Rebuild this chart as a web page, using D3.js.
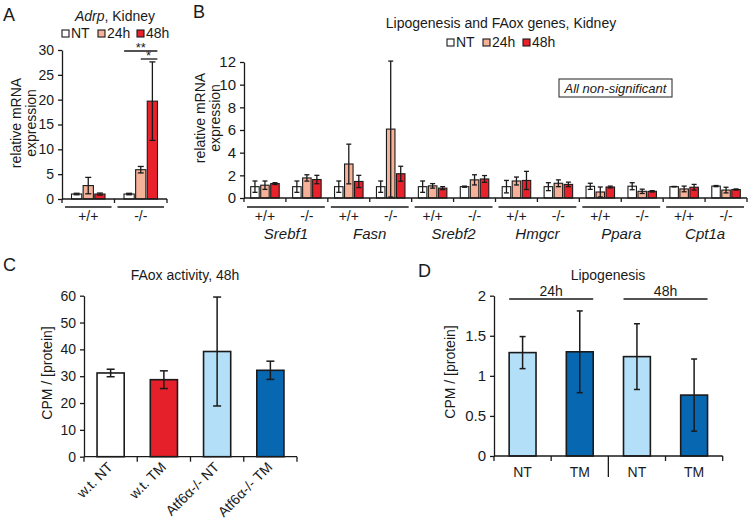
<!DOCTYPE html>
<html>
<head>
<meta charset="utf-8">
<script src="https://cdn.jsdelivr.net/npm/d3@7/dist/d3.min.js"></script>
<style>
  body { margin: 0; background: #fff; }
  svg text { font-family: "Liberation Sans", Arial, Helvetica, sans-serif; fill: #1a1a1a; }
</style>
</head>
<body>
<div id="chart"></div>
<script>
// ---- data ----
var series = ["NT", "24h", "48h"];
var seriesColor = ["#ffffff", "#f6b199", "#e8212b"];
var genotypes = ["+/+", "-/-"];

// panel A: Adrp, kidney  [genotype][series]
var adrpMean = [[1.0, 2.7, 1.0], [1.0, 5.9, 19.7]];
var adrpSD = [[0.15, 1.65, 0.2], [0.15, 0.65, 7.9]];
var adrpTicks = [0, 5, 10, 15, 20, 25, 30];

// panel B: lipogenesis / FAox genes  [gene][genotype][series]
var genes = ["Srebf1", "Fasn", "Srebf2", "Hmgcr", "Ppara", "Cpt1a"];
var geneMean = [
  [[1.0, 1.13, 1.27], [1.0, 1.77, 1.63]],
  [[1.0, 3.0, 1.46], [1.0, 6.08, 2.14]],
  [[1.0, 1.07, 0.87], [1.0, 1.6, 1.68]],
  [[1.0, 1.5, 1.55], [1.0, 1.3, 1.2]],
  [[1.03, 0.53, 0.97], [1.04, 0.59, 0.59]],
  [[1.0, 0.8, 0.95], [1.05, 0.7, 0.75]]
];
var geneSD = [
  [[0.5, 0.37, 0.08], [0.5, 0.28, 0.37]],
  [[0.5, 1.75, 0.54], [0.5, 6.0, 0.66]],
  [[0.5, 0.2, 0.13], [0.05, 0.45, 0.3]],
  [[0.55, 0.35, 0.8], [0.35, 0.3, 0.2]],
  [[0.27, 0.44, 0.08], [0.31, 0.19, 0.06]],
  [[0.02, 0.25, 0.25], [0.05, 0.25, 0.05]]
];
var geneTicks = [0, 2, 4, 6, 8, 10, 12];

// panel C: FAox activity, 48h
var faoxLabels = ["w.t. NT", "w.t. TM", "Atf6\u03b1-/- NT", "Atf6\u03b1-/- TM"];
var faoxMean = [31.2, 28.7, 39.2, 32.2];
var faoxSD = [1.4, 3.3, 20.3, 3.4];
var faoxColor = ["#ffffff", "#e5202a", "#b3e0f8", "#0767b1"];
var faoxTicks = [0, 10, 20, 30, 40, 50, 60];

// panel D: lipogenesis
var lipoTimes = ["24h", "48h"];
var lipoLabels = ["NT", "TM", "NT", "TM"];
var lipoMean = [1.29, 1.30, 1.24, 0.76];
var lipoSD = [0.2, 0.51, 0.41, 0.45];
var lipoColor = ["#b3e0f8", "#0767b1", "#b3e0f8", "#0767b1"];
var lipoTicks = [0, 0.5, 1, 1.5, 2];

// ---- helpers ----
var ink = "#1a1a1a";
var svg = d3.select("#chart").append("svg")
    .attr("width", 750)
    .attr("height", 521);

function yAxis(x0, y, ticks, fs) {
    var ax = svg.append("g")
        .attr("transform", "translate(" + x0 + ",0)")
        .call(d3.axisLeft(y).tickValues(ticks).tickSize(4).tickSizeOuter(0).tickPadding(4).tickFormat(String));
    ax.selectAll("path, line").attr("stroke", ink).attr("stroke-width", 1.3);
    ax.selectAll("text").style("font-size", fs + "px").style("font-family", null).attr("fill", ink);
    return ax;
}

function xBase(x, yPos, tickLen) {
    var r = x.range();
    svg.append("line").attr("x1", r[0]).attr("x2", r[1]).attr("y1", yPos).attr("y2", yPos)
        .attr("stroke", ink).attr("stroke-width", 1.3);
    d3.range(x.domain().length + 1).forEach(function (i) {
        var bx = r[0] + i * x.step();
        var len = typeof tickLen === "function" ? tickLen(i) : tickLen;
        svg.append("line").attr("x1", bx).attr("x2", bx).attr("y1", yPos).attr("y2", yPos + len)
            .attr("stroke", ink).attr("stroke-width", 1.3);
    });
}

function errBar(cx, y, mean, sd, cap, sw) {
    var top = y(mean + sd), bot = y(Math.max(0, mean - sd));
    var g = svg.append("g").attr("stroke", ink).attr("stroke-width", sw);
    g.append("line").attr("x1", cx).attr("x2", cx).attr("y1", top).attr("y2", bot);
    g.append("line").attr("x1", cx - cap / 2).attr("x2", cx + cap / 2).attr("y1", top).attr("y2", top);
    g.append("line").attr("x1", cx - cap / 2).attr("x2", cx + cap / 2).attr("y1", bot).attr("y2", bot);
}

function text(x, y, s, fs, anchor) {
    return svg.append("text").attr("x", x).attr("y", y).attr("text-anchor", anchor || "middle")
        .style("font-size", fs + "px").text(s);
}

function yLabel(x, y, lines, fs, gap) {
    var t = svg.append("text").attr("transform", "translate(" + x + "," + y + ") rotate(-90)")
        .attr("text-anchor", "middle").style("font-size", fs + "px");
    lines.forEach(function (l, i) {
        t.append("tspan").attr("x", 0).attr("dy", i === 0 ? 0 : gap).text(l);
    });
}

function legend(x0, yb, offs) {
    series.forEach(function (s, i) {
        svg.append("rect").attr("x", x0 + offs[i]).attr("y", yb - 8).attr("width", 7).attr("height", 7)
            .attr("fill", seriesColor[i]).attr("stroke", ink).attr("stroke-width", 1.1);
        text(x0 + offs[i] + 9, yb, s, 14, "start");
    });
}

// ---- panel A ----
var yA = d3.scaleLinear().domain([0, 30]).range([199, 50]);
var xA = d3.scaleBand().domain(d3.range(genotypes.length)).range([62, 167]);
var sA = d3.scaleBand().domain(series).range([9.5, xA.bandwidth() - 9.5]).paddingInner(0.12);

text(3, 21, "A", 18, "start");
var tA = text(115, 21, "", 14);
tA.append("tspan").style("font-style", "italic").text("Adrp");
tA.append("tspan").text(", Kidney");
legend(62, 38, [0, 36, 75]);
yAxis(62, yA, adrpTicks, 14);
yLabel(21, 123, ["relative mRNA", "expression"], 14, 15);

adrpMean.forEach(function (row, gi) {
    row.forEach(function (v, si) {
        svg.append("rect")
            .attr("x", xA(gi) + sA(series[si])).attr("y", yA(v))
            .attr("width", sA.bandwidth()).attr("height", yA(0) - yA(v))
            .attr("fill", seriesColor[si]).attr("stroke", ink).attr("stroke-width", 1.1);
    });
});
adrpMean.forEach(function (row, gi) {
    row.forEach(function (v, si) {
        errBar(xA(gi) + sA(series[si]) + sA.bandwidth() / 2, yA, v, adrpSD[gi][si], 6, 1.3);
    });
});
xBase(xA, 199, 4);
genotypes.forEach(function (g, i) {
    svg.append("line").attr("x1", xA(i) + 3).attr("x2", xA(i) + xA.bandwidth() - 3)
        .attr("y1", 207).attr("y2", 207).attr("stroke", ink).attr("stroke-width", 1.3);
    text(xA(i) + xA.bandwidth() / 2, 221, g, 14);
});
// significance marks
var cNT = xA(1) + sA("NT") + sA.bandwidth() / 2,
    c24 = xA(1) + sA("24h") + sA.bandwidth() / 2,
    c48 = xA(1) + sA("48h") + sA.bandwidth() / 2;
svg.append("line").attr("x1", cNT - 5).attr("x2", c48 + 5).attr("y1", 51).attr("y2", 51).attr("stroke", ink).attr("stroke-width", 1.3);
svg.append("line").attr("x1", c24).attr("x2", c48 + 5).attr("y1", 59).attr("y2", 59).attr("stroke", ink).attr("stroke-width", 1.3);
text((cNT + c48) / 2, 52, "**", 13);
text((c24 + c48) / 2 + 2, 60, "*", 13);

// ---- panel B ----
var yB = d3.scaleLinear().domain([0, 12]).range([198, 62]);
var xB = d3.scaleBand().domain(d3.range(genes.length * 2)).range([244, 747]);
var sB = d3.scaleBand().domain(series).range([6.7, xB.bandwidth() - 6.7]).paddingInner(0.15);

text(193, 18, "B", 18, "start");
text(501, 28, "Lipogenesis and FAox genes, Kidney", 14);
legend(447, 47, [0, 36, 76]);
yAxis(244, yB, geneTicks, 15);
yLabel(205, 118, ["relative mRNA", "expression"], 14, 15);

svg.append("rect").attr("x", 559).attr("y", 79).attr("width", 113).attr("height", 18)
    .attr("fill", "#fff").attr("stroke", "#333").attr("stroke-width", 1.1);
text(615.5, 92.5, "All non-significant", 13).style("font-style", "italic");

genes.forEach(function (gene, gi) {
    genotypes.forEach(function (gt, ti) {
        var gx = xB(gi * 2 + ti);
        series.forEach(function (s, si) {
            var v = geneMean[gi][ti][si];
            svg.append("rect")
                .attr("x", gx + sB(s)).attr("y", yB(v))
                .attr("width", sB.bandwidth()).attr("height", yB(0) - yB(v))
                .attr("fill", seriesColor[si]).attr("stroke", ink).attr("stroke-width", 1.1);
        });
        series.forEach(function (s, si) {
            errBar(gx + sB(s) + sB.bandwidth() / 2, yB, geneMean[gi][ti][si], geneSD[gi][ti][si], 5, 1.3);
        });
        text(gx + xB.bandwidth() / 2, 221, gt, 14);
    });
    svg.append("line").attr("x1", xB(gi * 2) + 3).attr("x2", xB(gi * 2 + 1) + xB.bandwidth() - 3)
        .attr("y1", 207).attr("y2", 207).attr("stroke", ink).attr("stroke-width", 1.3);
    text(xB(gi * 2) + xB.bandwidth(), 239, gene, 15).style("font-style", "italic");
});
xBase(xB, 198, 4);

// ---- panel C ----
var yC = d3.scaleLinear().domain([0, 60]).range([456.7, 295.7]);
var xC = d3.scaleBand().domain(faoxLabels).range([84, 297]).paddingInner(0.49).paddingOuter(0.245);

text(3, 271, "C", 18, "start");
text(185, 280, "FAox activity, 48h", 14);
yAxis(84, yC, faoxTicks, 14);
yLabel(52, 373, ["CPM / [protein]"], 14, 0);
faoxLabels.forEach(function (l, i) {
    svg.append("rect").attr("x", xC(l)).attr("y", yC(faoxMean[i]))
        .attr("width", xC.bandwidth()).attr("height", yC(0) - yC(faoxMean[i]))
        .attr("fill", faoxColor[i]).attr("stroke", ink).attr("stroke-width", 1.6);
    errBar(xC(l) + xC.bandwidth() / 2, yC, faoxMean[i], faoxSD[i], 8, 1.5);
    svg.append("text")
        .attr("transform", "translate(" + (xC(l) + xC.bandwidth() / 2 + 3) + ",468) rotate(-45)")
        .attr("text-anchor", "end").style("font-size", "14px").text(l);
});
xBase(xC, 456.7, 5);

// ---- panel D ----
var yD = d3.scaleLinear().domain([0, 2]).range([456, 295.7]);
var xD = d3.scaleBand().domain(d3.range(lipoLabels.length)).range([494, 722.7]).paddingInner(0.53).paddingOuter(0.265);

text(418, 277, "D", 18, "start");
text(608, 280, "Lipogenesis", 14);
yAxis(494, yD, lipoTicks, 15);
yLabel(455, 372, ["CPM / [protein]"], 14, 0);
lipoLabels.forEach(function (l, i) {
    svg.append("rect").attr("x", xD(i)).attr("y", yD(lipoMean[i]))
        .attr("width", xD.bandwidth()).attr("height", yD(0) - yD(lipoMean[i]))
        .attr("fill", lipoColor[i]).attr("stroke", ink).attr("stroke-width", 1.6);
    errBar(xD(i) + xD.bandwidth() / 2, yD, lipoMean[i], lipoSD[i], 6, 1.5);
    text(xD(i) + xD.bandwidth() / 2, 477, l, 14);
});
xBase(xD, 456, function (i) { return i === 2 ? 21 : 5; });
lipoTimes.forEach(function (t, i) {
    var x1 = xD(i * 2), x2 = xD(i * 2 + 1) + xD.bandwidth();
    svg.append("line").attr("x1", x1).attr("x2", x2).attr("y1", 299).attr("y2", 299)
        .attr("stroke", ink).attr("stroke-width", 1.3);
    text((x1 + x2) / 2, 296, t, 14);
});
</script>
</body>
</html>
